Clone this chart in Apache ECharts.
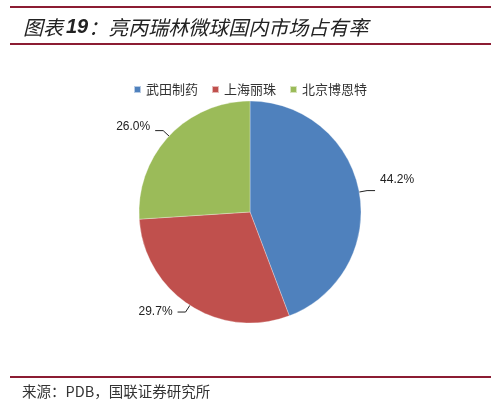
<!DOCTYPE html>
<html><head><meta charset="utf-8">
<script src="https://cdn.jsdelivr.net/npm/echarts@6/dist/echarts.min.js"></script>
<style>html,body{margin:0;padding:0;background:#fff}#c{width:500px;height:406px}</style>
</head><body><div id="c"></div>
<script>
const categories = ['武田制药', '上海丽珠', '北京博恩特'];
const values = [44.2, 29.7, 26.0];
const colors = ['#4F81BD', '#C0504D', '#9BBB59'];
const titleParts = ['图表', '19', '：亮丙瑞林微球国内市场占有率'];
const sourceText = '来源：PDB，国联证券研究所';

const chart = echarts.init(document.getElementById('c'));
const lineColor = '#8C1C32';
const labelShift = [-11, 0, -4];
chart.setOption({
  animation: false,
  backgroundColor: '#fff',
  color: colors,
  graphic: [
    {type: 'rect', shape: {x: 10, y: 6, width: 481, height: 2}, style: {fill: lineColor}},
    {type: 'text', left: 23, top: 17, style: {
      text: '{a|' + titleParts[0] + '}{b|' + titleParts[1] + '}{a|' + titleParts[2] + '}',
      rich: {
        a: {font: 'italic 20px "Noto Sans CJK SC"', fill: '#222'},
        b: {font: 'italic bold 20px "Liberation Sans"', fill: '#222', padding: [0, 0, 0, 3]}
      }
    }},
    {type: 'rect', shape: {x: 10, y: 43, width: 481, height: 2}, style: {fill: lineColor}},
    {type: 'rect', shape: {x: 10, y: 376, width: 481, height: 2}, style: {fill: lineColor}},
    {type: 'text', left: 22, top: 384, style: {text: sourceText, font: '14.5px "Noto Sans CJK SC"', fill: '#333'}}
  ],
  legend: {
    top: 78, left: 'center',
    icon: 'rect', itemWidth: 7, itemHeight: 7, itemGap: 13,
    textStyle: {fontSize: 13, color: '#333', fontFamily: 'Noto Sans CJK SC'},
    data: categories
  },
  series: [{
    type: 'pie',
    center: [250, 212],
    radius: 111,
    startAngle: 90,
    clockwise: true,
    data: categories.map((n, i) => ({name: n, value: values[i]})),
    itemStyle: {borderColor: 'rgba(255,255,255,0.6)', borderWidth: 0.5},
    label: {
      show: true, position: 'outside',
      formatter: p => p.value.toFixed(1) + '%',
      fontSize: 12, color: '#222', fontFamily: 'Liberation Sans'
    },
    labelLine: {show: true, length: 8, length2: 8, lineStyle: {color: '#222', width: 1}},
    labelLayout: p => ({dy: labelShift[p.dataIndex]})
  }]
});
</script></body></html>
